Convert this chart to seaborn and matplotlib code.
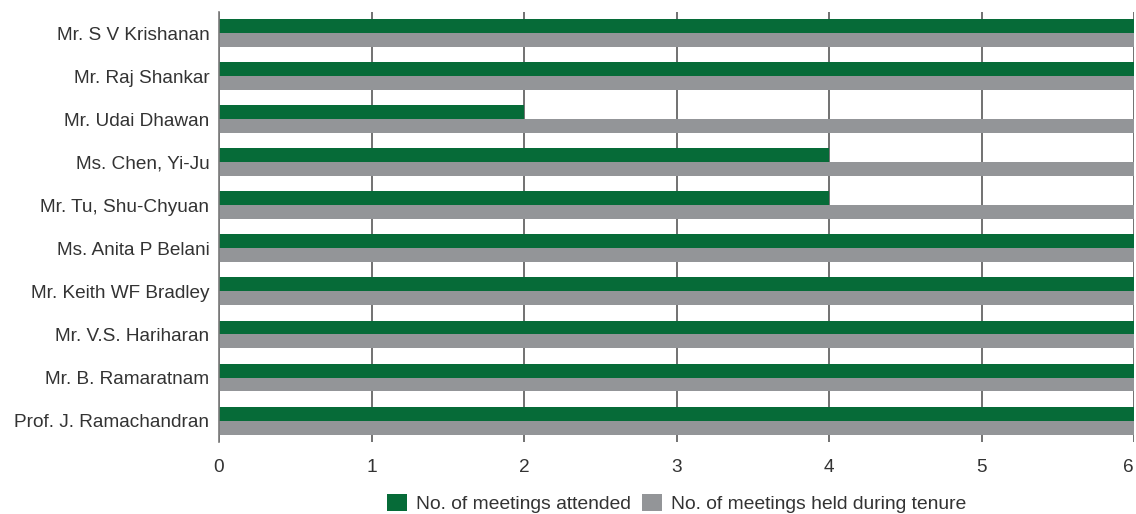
import pandas as pd
import matplotlib.pyplot as plt
import seaborn as sns

# data
directors = ["Mr. S V Krishanan", "Mr. Raj Shankar", "Mr. Udai Dhawan", "Ms. Chen, Yi-Ju",
             "Mr. Tu, Shu-Chyuan", "Ms. Anita P Belani", "Mr. Keith WF Bradley",
             "Mr. V.S. Hariharan", "Mr. B. Ramaratnam", "Prof. J. Ramachandran"]
attended = [6, 6, 2, 4, 4, 6, 6, 6, 6, 6]
held = [6, 6, 6, 6, 6, 6, 6, 6, 6, 6]
series = ["No. of meetings attended", "No. of meetings held during tenure"]

df = pd.concat([
    pd.DataFrame({"director": directors, "meetings": attended, "series": series[0]}),
    pd.DataFrame({"director": directors, "meetings": held, "series": series[1]}),
], ignore_index=True)

sns.set_style("white")
plt.rcParams['font.family'] = ['Liberation Sans', 'DejaVu Sans']

fig = plt.figure(figsize=(11.36, 5.14), dpi=100)
ax = fig.add_axes([0.1928, 0.140, 0.8055, 0.837])

sns.barplot(data=df, y="director", x="meetings", hue="series", order=directors,
            hue_order=series, palette=["#066b38", "#939598"], orient="h",
            width=0.65, errorbar=None, linewidth=0, saturation=1, ax=ax, zorder=1)

ax.set_xlim(0, 6)
ax.set_ylim(9.5, -0.5)
ax.set_xticks(range(0, 7))
ax.grid(axis="x", color="#4a4a4a", linewidth=1.1, zorder=0)
ax.set_axisbelow(True)
ax.set_xlabel("")
ax.set_ylabel("")
for s in ["top", "right", "bottom"]:
    ax.spines[s].set_visible(False)
ax.spines["left"].set_color("#7a7a7a")
ax.spines["left"].set_linewidth(1.2)
ax.tick_params(axis="both", length=0, labelsize=13.7, labelcolor="#333333")
ax.tick_params(axis="x", pad=12)
ax.tick_params(axis="y", pad=7)
ax.get_xticklabels()[-1].set_ha("right")

ax.legend(loc="center", bbox_to_anchor=(0.5, -0.143), ncol=2, frameon=False,
          fontsize=13.9, handlelength=1.05, handleheight=0.95, columnspacing=0.6,
          handletextpad=0.45, labelcolor="#333333")

fig.savefig("out.png", dpi=100)
